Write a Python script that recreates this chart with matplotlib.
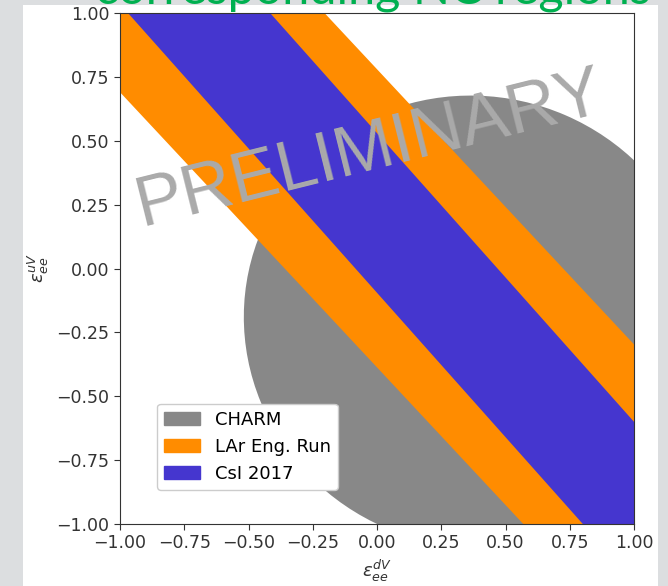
import numpy as np
import matplotlib
matplotlib.use('Agg')
from matplotlib import pyplot as plt
from matplotlib.patches import Ellipse, Patch, Rectangle

# CHARM allowed region (ellipse in the eps_dV / eps_uV plane)
charm_center = (0.382, -0.207)
charm_semi_axes = (0.904, 0.880)
charm_angle = 156.5

# CEvNS bands: y = slope * x + edge
lar_slope = -1.077
lar_edges = (-0.387, 0.780)
csi_slope = -1.13
csi_edges = (-0.095, 0.53)

labels = ['CHARM', 'LAr Eng. Run', 'CsI 2017']
colors = ['#888888', '#ff8c00', '#4536cf']
ticks = [-1.0, -0.75, -0.5, -0.25, 0.0, 0.25, 0.5, 0.75, 1.0]

fig = plt.figure(figsize=(6.68, 5.86), dpi=100, facecolor='#dcdee0')
fig.patches.append(Rectangle((23/668, 0), 635/668, 581/586, transform=fig.transFigure,
                             facecolor='white', edgecolor='none', zorder=-1))
ax = fig.add_axes([120/668, 62/586, 514/668, 511/586])

ax.add_patch(Ellipse(charm_center, 2*charm_semi_axes[0], 2*charm_semi_axes[1],
                     angle=charm_angle, facecolor=colors[0], edgecolor='none'))
xs = np.array([-1.0, 1.0])
ax.fill_between(xs, lar_slope*xs + lar_edges[0], lar_slope*xs + lar_edges[1], color=colors[1], lw=0)
ax.fill_between(xs, csi_slope*xs + csi_edges[0], csi_slope*xs + csi_edges[1], color=colors[2], lw=0)

ax.set_xlim(-1, 1)
ax.set_ylim(-1, 1)
ax.set_xticks(ticks)
ax.set_yticks(ticks)
ax.tick_params(labelsize=12.5, length=4, colors='#333333')
for s in ax.spines.values():
    s.set_color('#333333')
ax.set_xlabel(r'$\varepsilon_{ee}^{dV}$', fontsize=13, color='#333333')
ax.set_ylabel(r'$\varepsilon_{ee}^{uV}$', fontsize=13, color='#333333')

handles = [Patch(color=c, label=l) for c, l in zip(colors, labels)]
ax.legend(handles=handles, loc='lower left', bbox_to_anchor=(0.072, 0.0665), borderaxespad=0,
          fontsize=13, framealpha=1, fancybox=True)

ax.text(-0.03, 0.46, 'PRELIMINARY', fontsize=51, rotation=14, color='#aaaaaa',
        family='Liberation Sans', ha='center', va='center', zorder=5)
fig.text(95/668, 1 - 4/586, 'corresponding NC regions', color='#00b050', fontsize=35,
         family='Lato', va='baseline')

fig.savefig('out.png', dpi=100, facecolor=fig.get_facecolor())
